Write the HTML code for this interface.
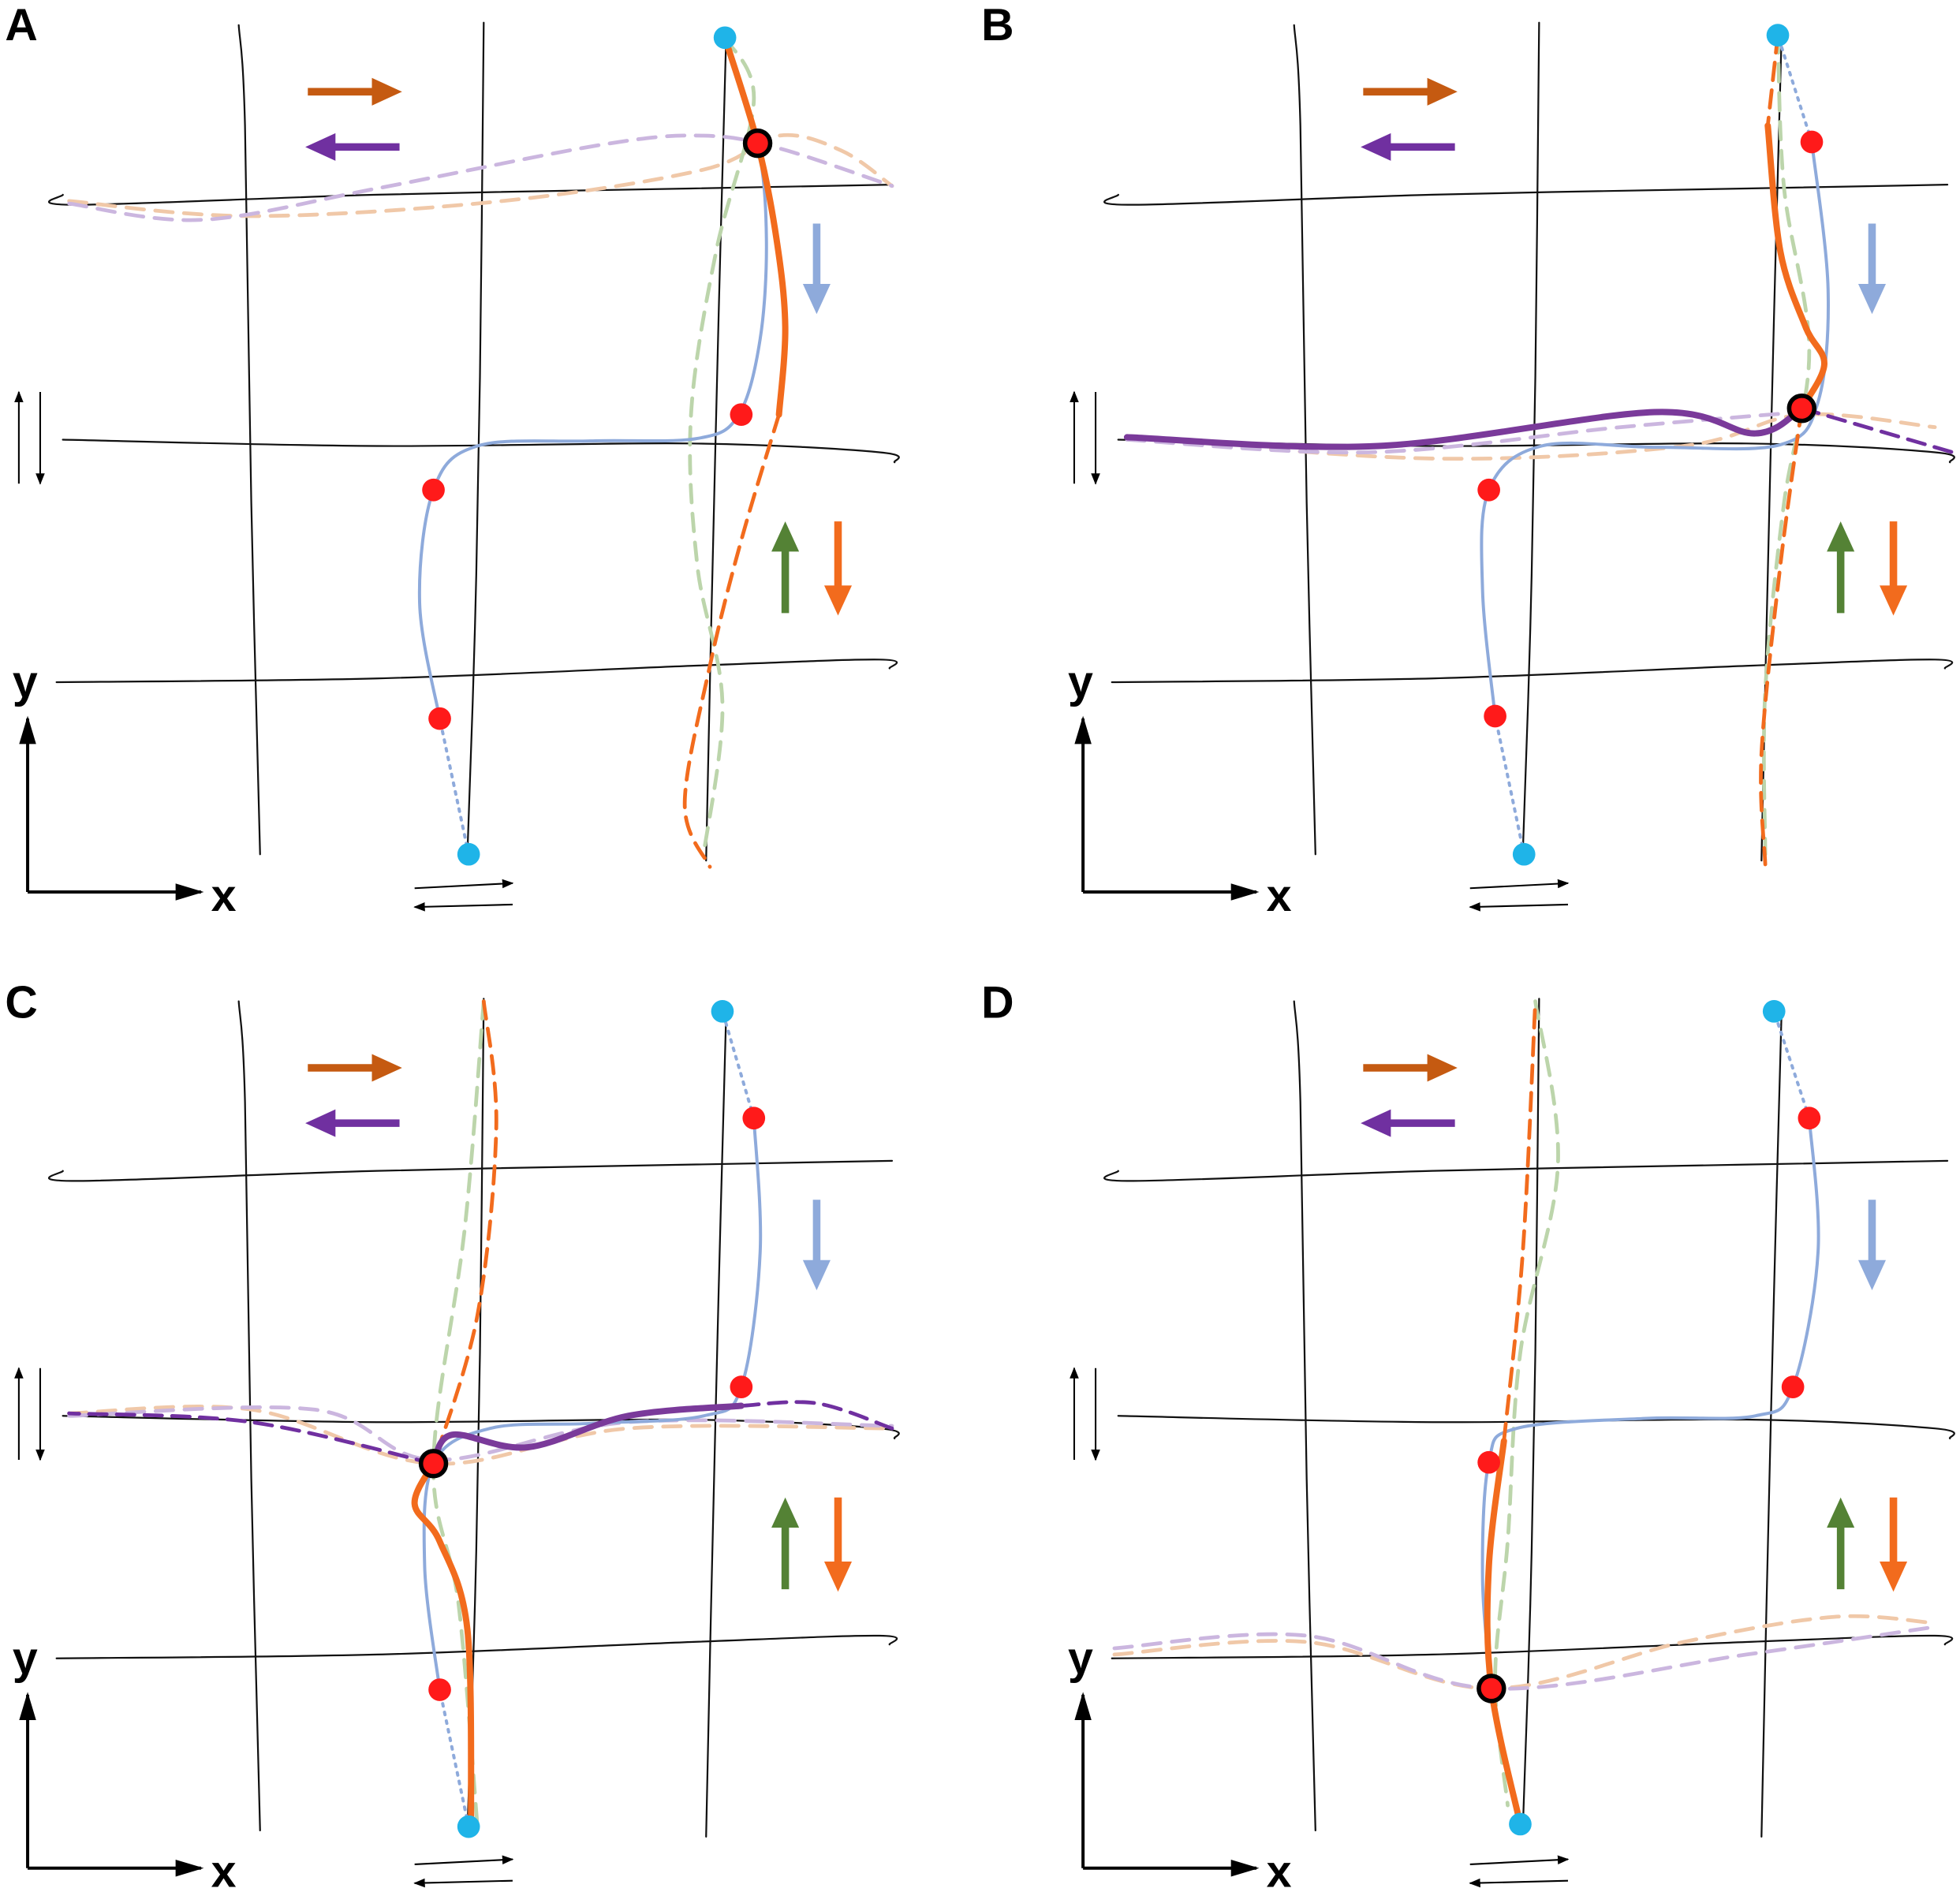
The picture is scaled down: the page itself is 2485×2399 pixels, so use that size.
<!DOCTYPE html>
<html><head><meta charset="utf-8"><style>
html,body{margin:0;padding:0;background:#fff}
svg{display:block}
text{font-family:"Liberation Sans",Arial,sans-serif;font-weight:bold}
</style></head><body>
<svg id="fig" width="2485" height="2399" viewBox="0 0 1560 1506" xmlns="http://www.w3.org/2000/svg">
<defs>
<marker id="ah" viewBox="0 0 10 10" refX="9" refY="5" markerWidth="7" markerHeight="7" orient="auto"><path d="M0,1 L10,5 L0,9 z" fill="#000"/></marker>
<marker id="ahs" viewBox="0 0 10 10" refX="9" refY="5" markerWidth="9" markerHeight="9" orient="auto"><path d="M0,2 L10,5 L0,8 z" fill="#000"/></marker>
</defs>
</svg>
<script>
const NS='http://www.w3.org/2000/svg';
const svg=document.getElementById('fig');
const panelNames=['A','B','C','D'];
const panelOffsets=[[0,0],[840,0],[0,777],[840,777]];
const labelPos=[[4,32],[781,32],[4,810],[781,810]];
const blueSolid=[
 [[350,572],[334,480],[345,390],[380,355],[470,351],[555,349],[588,330],[605,270],[610,190],[603,114],[577,30]],
 [[350,570],[340,470],[345,390],[387,355],[480,356],[577,354],[607,320],[615,230],[602,113]],
 [[350,568],[338,470],[345,388],[390,360],[470,356],[560,350],[590,327],[605,220],[600,113]],
 [[347,567],[340,480],[345,387],[367,360],[470,352],[557,350],[587,327],[607,220],[600,113]]];
const blueDotted=[[[373,680],[350,572]],[[373,680],[350,570]],[[373,677],[350,568]],[[600,113],[572,28]]];
const blueDotted2=[null,[[602,113],[575,28]],[[600,113],[575,28]],null];
const orangeSolid=[
 [[577,30],[603,114],[618,190],[625,260],[620,330]],
 [[567,100],[577,200],[597,260],[612,290],[594,325]],
 [[345,388],[330,420],[350,450],[372,520],[375,677]],
 [[370,675],[347,567],[345,470],[357,370]]];
const orangeDashed=[
 [[620,330],[590,430],[565,530],[545,640],[565,690]],
 [[594,325],[577,450],[562,600],[565,688]],
 [[385,20],[395,120],[380,270],[345,388]],
 [[357,370],[372,220],[382,20]]];
const orangeDashed2=[null,[[575,28],[567,100]],null,null];
const greenDashed=[
 [[577,30],[600,80],[570,200],[550,330],[555,450],[575,560],[560,680]],
 [[575,28],[580,150],[600,280],[580,400],[565,550],[565,680]],
 [[385,20],[370,200],[345,388],[365,500],[380,677]],
 [[382,20],[400,150],[370,300],[360,450],[350,560],[360,660]]];
const lightOrange=[
 [[55,160],[200,172],[400,160],[560,135],[620,108],[670,120],[710,148]],
 [[57,348],[300,365],[500,355],[594,330],[700,340]],
 [[55,348],[200,345],[345,388],[500,360],[710,360]],
 [[47,540],[200,530],[347,567],[500,530],[620,510],[700,515]]];
const lightPurple=[
 [[55,162],[160,175],[300,150],[480,115],[560,108],[620,118],[710,148]],
 [[57,350],[250,360],[450,340],[594,328]],
 [[55,350],[250,345],[345,385],[500,355],[710,358]],
 [[47,535],[200,525],[347,567],[550,540],[700,518]]];
const purpleSolid=[null,
 [[594,325],[557,345],[477,328],[257,355],[57,348]],
 [[345,388],[360,365],[420,375],[500,350],[590,342]],null];
const purpleDashed=[null,[[594,325],[714,360]],[[590,342],[650,340],[710,360]],null];
const purpleDashed2=[null,null,[[345,388],[200,355],[55,348]],null];
const redDots=[[[350,572],[345,390],[590,330]],[[350,570],[345,390],[602,113]],[[350,568],[590,327],[600,113]],[[345,387],[587,327],[600,113]]];
const cyanDots=[[[373,680],[577,30]],[[373,680],[575,28]],[[373,677],[575,28]],[[370,675],[572,28]]];
const blackDot=[[603,114],[594,325],[345,388],[347,567]];

function el(t,a,p){const e=document.createElementNS(NS,t);for(const k in a)e.setAttribute(k,a[k]);(p||svg).appendChild(e);return e;}
function smooth(pts){
 let d='M'+pts[0][0]+','+pts[0][1];
 for(let i=0;i<pts.length-1;i++){
  const p0=pts[i-1]||pts[i],p1=pts[i],p2=pts[i+1],p3=pts[i+2]||p2;
  const c1=[p1[0]+(p2[0]-p0[0])/6,p1[1]+(p2[1]-p0[1])/6];
  const c2=[p2[0]-(p3[0]-p1[0])/6,p2[1]-(p3[1]-p1[1])/6];
  d+=' C'+c1+' '+c2+' '+p2;
 }return d;}
function curve(g,pts,stroke,w,dash,name){
 if(!pts)return;
 const e=el('path',{d:smooth(pts),fill:'none',stroke:stroke,'stroke-width':w,'stroke-linecap':'round'},g);
 if(dash)e.setAttribute('stroke-dasharray',dash);
 
 
}
function fatArrow(g,x1,y1,x2,y2,color,name){
 const dx=x2-x1,dy=y2-y1,L=Math.hypot(dx,dy),ux=dx/L,uy=dy/L,px=-uy,py=ux;
 const hb=[x2-ux*24,y2-uy*24];
 const pts=[[x1+px*3,y1+py*3],[hb[0]+px*3,hb[1]+py*3],[hb[0]+px*11,hb[1]+py*11],[x2,y2],[hb[0]-px*11,hb[1]-py*11],[hb[0]-px*3,hb[1]-py*3],[x1-px*3,y1-py*3]];
 const e=el('polygon',{points:pts.map(p=>p.join(',')).join(' '),fill:color},g);
 
 
}
panelNames.forEach((nm,i)=>{
 const [ox,oy]=panelOffsets[i];
 const g=el('g',{transform:`translate(${ox},${oy})`});
 
 
 const grid=[
  [[190,20],[195,100],[200,400],[207,680]],
  [[385,18],[382,300],[378,500],[372,680]],
  [[578,28],[572,250],[566,500],[562,685]],
  [[50,155],[60,163],[300,155],[550,150],[710,147]],
  [[50,350],[300,355],[550,353],[700,360],[712,368]],
  [[45,543],[300,540],[550,530],[700,525],[708,532]]];
 grid.forEach((p,k)=>curve(g,p,'#111',1.4,null,'grid-line-'+k));
 curve(g,lightOrange[i],'#f0c8a8',3,'14,9','light-orange-dashed');
 curve(g,lightPurple[i],'#cbb6df',3,'14,9','light-purple-dashed');
 curve(g,greenDashed[i],'#bcd5ab',3,'14,9','green-dashed');
 curve(g,blueSolid[i],'#8eaadb',2.5,null,'blue-trajectory');
 curve(g,blueDotted[i],'#8eaadb',2.5,'2,5','blue-dotted');
 curve(g,blueDotted2[i],'#8eaadb',2.5,'2,5','blue-dotted-top');
 curve(g,orangeDashed[i],'#f26b1d',3,'14,8','orange-dashed');
 curve(g,orangeDashed2[i],'#f26b1d',3,'14,8','orange-dashed-top');
 curve(g,orangeSolid[i],'#f26b1d',5,null,'orange-solid');
 curve(g,purpleDashed[i],'#7030a0',3,'14,8','purple-dashed');
 curve(g,purpleDashed2[i],'#7030a0',3,'14,8','purple-dashed-left');
 curve(g,purpleSolid[i],'#7a3a9a',5,null,'purple-solid');
 redDots[i].forEach(p=>{const c=el('circle',{cx:p[0],cy:p[1],r:9,fill:'#ff1a1a'},g);});
 cyanDots[i].forEach(p=>{const c=el('circle',{cx:p[0],cy:p[1],r:9,fill:'#1fb4e8'},g);});
 const b=blackDot[i];
 const bc=el('circle',{cx:b[0],cy:b[1],r:10,fill:'#ff1a1a',stroke:'#000','stroke-width':3.5},g);
 
 
 fatArrow(g,245,73,320,73,'#c55a11','arrow-right-orange');
 fatArrow(g,318,117,243,117,'#7030a0','arrow-left-purple');
 fatArrow(g,650,178,650,250,'#8eaadb','arrow-down-blue');
 fatArrow(g,625,488,625,415,'#548235','arrow-up-green');
 fatArrow(g,667,415,667,490,'#f26b1d','arrow-down-orange');
 const ax=el('g',{},g);
 el('line',{x1:22,y1:710,x2:22,y2:572,stroke:'#000','stroke-width':2.5,'marker-end':'url(#ahs)'},ax);
 el('line',{x1:22,y1:710,x2:160,y2:710,stroke:'#000','stroke-width':2.5,'marker-end':'url(#ahs)'},ax);
 const ty=el('text',{x:10,y:555,'font-size':36},ax);ty.textContent='y';
 const tx=el('text',{x:168,y:725,'font-size':36},ax);tx.textContent='x';
 el('line',{x1:15,y1:385,x2:15,y2:312,stroke:'#000','stroke-width':1.3,'marker-end':'url(#ah)'},ax);
 el('line',{x1:32,y1:312,x2:32,y2:385,stroke:'#000','stroke-width':1.3,'marker-end':'url(#ah)'},ax);
 el('line',{x1:330,y1:707,x2:408,y2:703,stroke:'#000','stroke-width':1.3,'marker-end':'url(#ah)'},ax);
 el('line',{x1:408,y1:720,x2:330,y2:722,stroke:'#000','stroke-width':1.3,'marker-end':'url(#ah)'},ax);
 const lt=el('text',{x:labelPos[i][0]-ox,y:labelPos[i][1]-oy,'font-size':36},g);
 lt.textContent=nm;
 
 
});
</script>
</body></html>
